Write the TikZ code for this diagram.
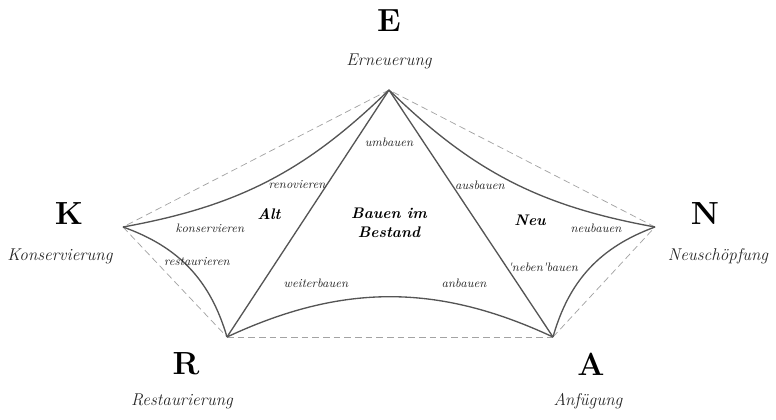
\documentclass[tikz,border=0pt]{standalone}
\usepackage{fontspec}
\usepackage{tikz}
\usetikzlibrary{positioning}
\definecolor{edgegrey}{HTML}{555555}
\definecolor{dashgrey}{HTML}{A3A3A3}
\definecolor{labelgrey}{HTML}{262626}

\begin{document}
\begin{tikzpicture}[x=0.75pt, y=-0.75pt,
    pole/.style={font=\fontsize{24}{24}\selectfont\bfseries, black},
    polename/.style={font=\fontsize{12.8}{14}\selectfont\itshape, labelgrey},
    verb/.style={font=\fontsize{9.2}{10}\selectfont\itshape, labelgrey},
    field/.style={font=\fontsize{11.5}{14}\selectfont\bfseries\itshape, black, align=center},
    frame/.style={dashgrey, line width=0.55pt, dash pattern=on 5pt off 3pt},
    link/.style={edgegrey, line width=1pt}]
  \useasboundingbox (0,0) rectangle (776,420);
  % corners
  \coordinate (E) at (389,90);
  \coordinate (K) at (123,227);
  \coordinate (N) at (655,227);
  \coordinate (R) at (227,337);
  \coordinate (A) at (553,337);

  % dashed outline
  \draw[frame] (E) -- (K);
  \draw[frame] (K) -- (R);
  \draw[frame] (R) -- (A);
  \draw[frame] (A) -- (N);
  \draw[frame] (N) -- (E);

  % curved and straight links
  \draw[link] (E) to[bend left=17] (K);
  \draw[link] (K) to[bend left=27] (R);
  \draw[link] (R) to[bend left=25] (A);
  \draw[link] (A) to[bend left=27] (N);
  \draw[link] (N) to[bend left=17] (E);
  \draw[link] (E) -- (R);
  \draw[link] (E) -- (A);

  % poles
  \node[pole] (lE) at (389,21) {E};
  \node[polename] (tE) at (389,61) {Erneuerung};
  \node[pole] (lK) at (69,214) {K};
  \node[polename] (tK) at (60,256) {Konservierung};
  \node[pole] (lN) at (705,214) {N};
  \node[polename] (tN) at (718,256) {Neuschöpfung};
  \node[pole] (lR) at (186,364) {R};
  \node[polename] (tR) at (182,401) {Restaurierung};
  \node[pole] (lA) at (591,364) {A};
  \node[polename] (tA) at (588,401) {Anfügung};

  % fields
  \node[field] (alt) at (269,214) {Alt};
  \node[field] (neu) at (530,220) {Neu};
  \node[field] (bestand) at (389,223) {Bauen im\\Bestand};

  % verbs
  \node[verb] (umbauen) at (389,142) {umbauen};
  \node[verb] (renovieren) at (297,185) {renovieren};
  \node[verb] (ausbauen) at (480,185) {ausbauen};
  \node[verb] (konservieren) at (210,228) {konservieren};
  \node[verb] (neubauen) at (596,228) {neubauen};
  \node[verb] (restaurieren) at (197,262) {restaurieren};
  \node[verb] (nebenbauen) at (543,267) {\textquotesingle neben\textquotesingle bauen};
  \node[verb] (weiterbauen) at (316,283) {weiterbauen};
  \node[verb] (anbauen) at (464,283) {anbauen};
\end{tikzpicture}
\end{document}
